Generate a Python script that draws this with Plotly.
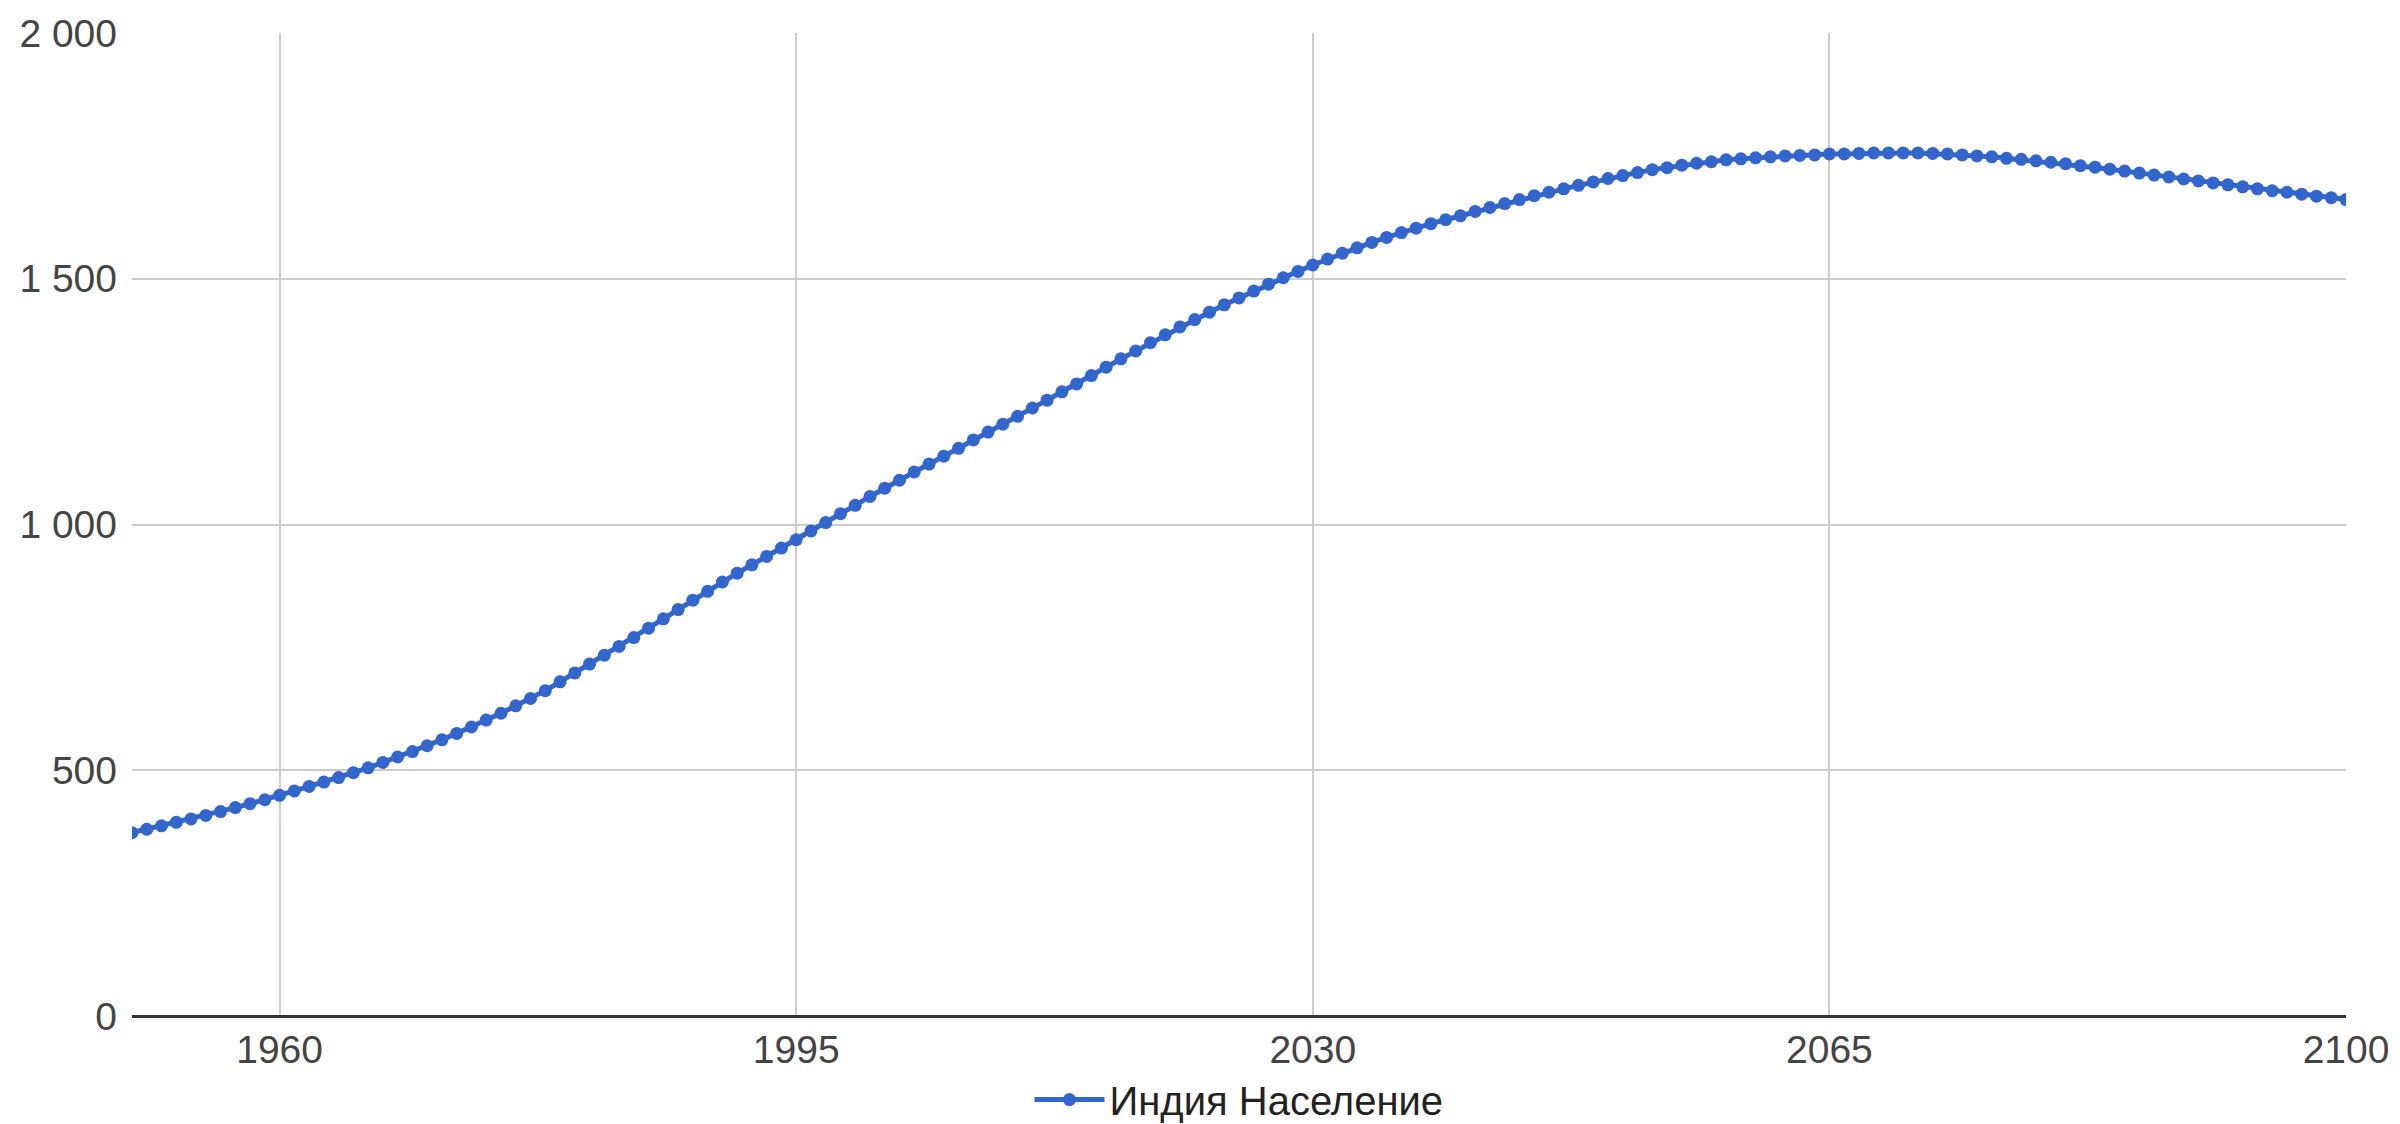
import plotly.graph_objects as go

# India population, millions, one point per year
years = list(range(1950, 2101))
population = [
    373, 380, 387, 394, 401, 408, 416, 424, 432, 440,
    449, 458, 467, 476, 485, 495, 505, 516, 527, 538,
    550, 562, 575, 588, 602, 616, 631, 646, 662, 680,
    698, 716, 734, 752, 770, 789, 808, 827, 846, 864,
    883, 901, 918, 935, 952, 969, 987, 1004, 1022, 1039,
    1057, 1074, 1090, 1107, 1123, 1139, 1155, 1172, 1188, 1204,
    1220, 1237, 1253, 1270, 1286, 1303, 1320, 1337, 1353, 1370,
    1386, 1402, 1417, 1432, 1447, 1461, 1475, 1489, 1502, 1515,
    1528, 1540, 1552, 1563, 1574, 1584, 1594, 1603, 1612, 1620,
    1628, 1637, 1645, 1653, 1661, 1669, 1676, 1683, 1690, 1697,
    1704, 1710, 1716, 1722, 1726, 1731, 1735, 1738, 1742, 1744,
    1746, 1748, 1750, 1751, 1752, 1754, 1754, 1755, 1756, 1756,
    1756, 1756, 1755, 1754, 1752, 1750, 1748, 1745, 1743, 1740,
    1737, 1734, 1730, 1727, 1723, 1719, 1715, 1711, 1707, 1703,
    1699, 1695, 1691, 1687, 1683, 1679, 1676, 1672, 1668, 1665,
    1661,
]
series_name = "Индия Население"

x_ticks = [1960, 1995, 2030, 2065, 2100]
y_ticks = [0, 500, 1000, 1500, 2000]
y_tick_labels = ["0", "500", "1 000", "1 500", "2 000"]

blue = "#3366cc"
font_family = "Liberation Sans, Arial, sans-serif"

fig = go.Figure()
fig.add_trace(go.Scatter(
    x=years, y=population, name=series_name,
    mode="lines+markers",
    line=dict(color=blue, width=5),
    marker=dict(color=blue, size=13),
    showlegend=True,
))

fig.update_layout(
    width=2400, height=1124,
    margin=dict(l=132, r=54, t=33, b=108, autoexpand=False),
    paper_bgcolor="white", plot_bgcolor="white",
    font=dict(family=font_family, size=39, color="#444444"),
    showlegend=True,
    legend=dict(orientation="h", x=0.5, xanchor="center",
                y=-0.085, yanchor="middle", itemwidth=70,
                font=dict(size=40, color="#222222"),
                bgcolor="rgba(0,0,0,0)"),
)
fig.update_xaxes(
    range=[1950, 2100], tickvals=x_ticks,
    showgrid=True, gridcolor="#cccccc", gridwidth=2,
    zeroline=False, showline=False, ticks="",
    automargin=False, ticklabelstandoff=7,
)
fig.update_yaxes(
    range=[0, 2000], tickvals=y_ticks, ticktext=y_tick_labels,
    showgrid=True, gridcolor="#cccccc", gridwidth=2,
    zeroline=True, zerolinecolor="#333333", zerolinewidth=3,
    showline=False, ticks="", automargin=False, ticklabelstandoff=14,
)

# page body has an 8px default margin; drop it so the figure fills the window
fig.write_html("out.html", config={"displayModeBar": False},
               post_script="document.body.style.margin='0';")
